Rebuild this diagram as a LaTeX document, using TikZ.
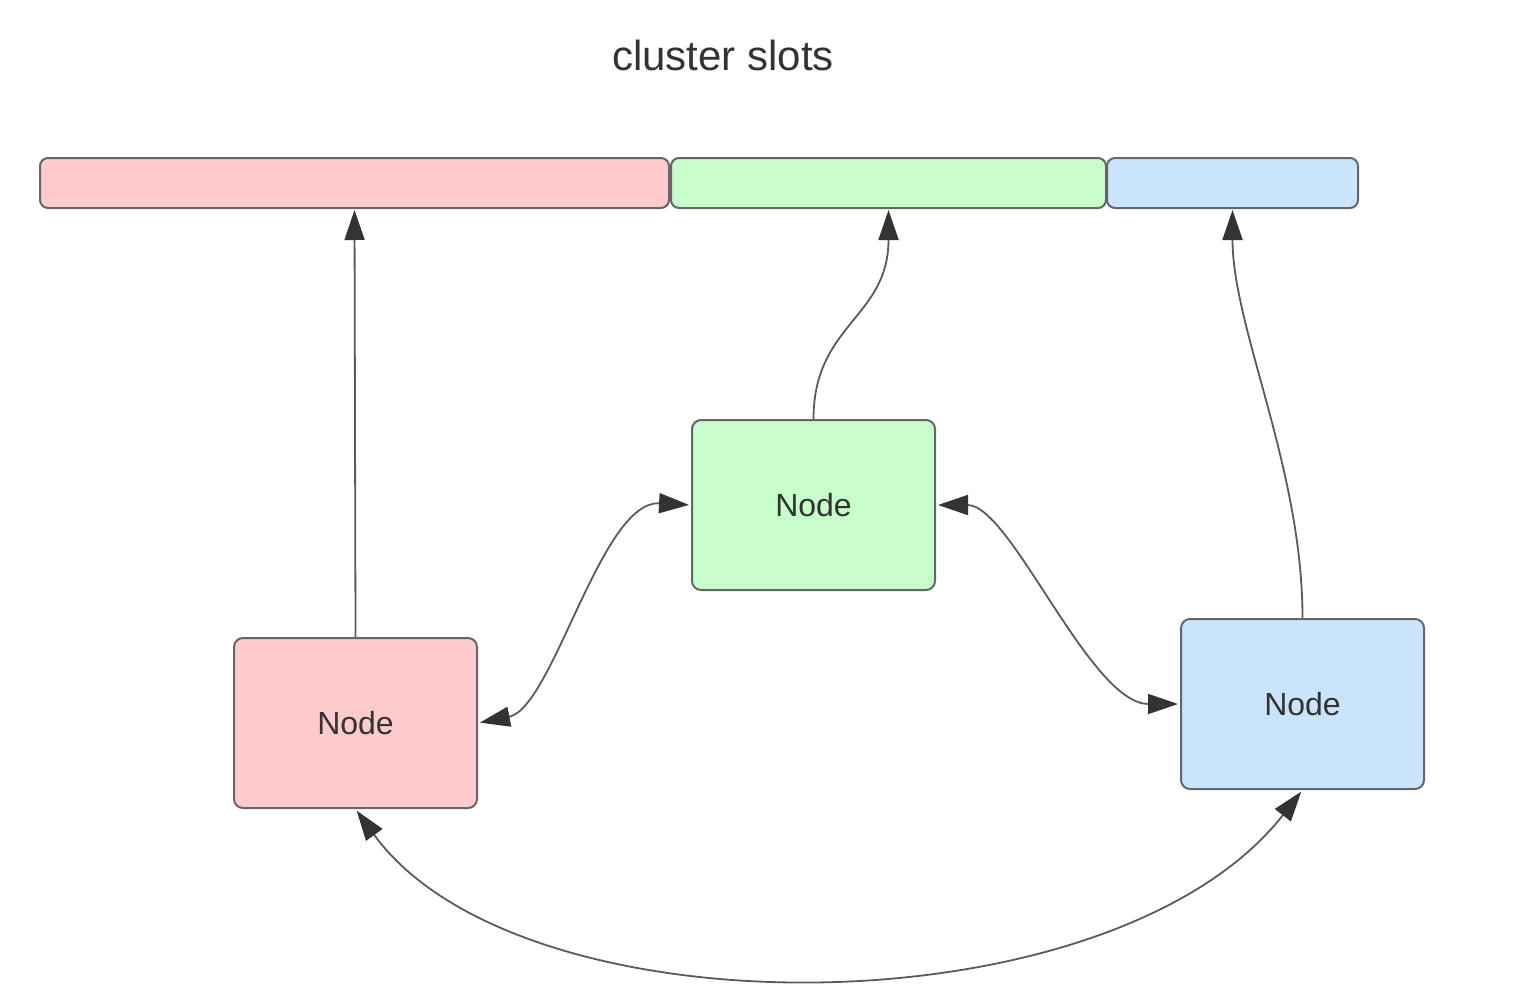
\documentclass[tikz,border=0pt]{standalone}
\usepackage{fontspec}
\setmainfont{Liberation Sans}
\usetikzlibrary{arrows.meta}
\definecolor{redfill}{HTML}{FECBCC}
\definecolor{greenfill}{HTML}{C6FDCB}
\definecolor{bluefill}{HTML}{C9E4FB}
\definecolor{edge}{HTML}{666666}
\definecolor{wire}{HTML}{5A5A5A}
\definecolor{ink}{HTML}{333333}
\begin{document}
\begin{tikzpicture}[x=1pt,y=-1pt,
  slot/.style={draw=edge,line width=2pt,rounded corners=8pt,minimum height=50pt,inner sep=0pt,outer sep=0pt},
  server/.style={draw=edge,line width=2pt,rounded corners=9pt,minimum width=243pt,minimum height=170pt,
    inner sep=0pt,outer sep=1pt,text=ink,font=\fontsize{32}{38}\selectfont},
  head/.tip={Triangle[length=30pt,width=20pt,color=ink]},
  link/.style={draw=wire,line width=1.8pt,-head,shorten >=2pt},
  biway/.style={draw=wire,line width=1.8pt,head-head,shorten >=2pt,shorten <=2pt}]
  \useasboundingbox (0,0) rectangle (1528,1004);

  % title
  \node[text=ink,font=\fontsize{42}{50}\selectfont] (title) at (723,55) {cluster slots};

  % slot ranges
  \node[slot,fill=redfill,minimum width=629pt] (slotA) at (354.5,183) {};
  \node[slot,fill=greenfill,minimum width=435pt] (slotB) at (888.5,183) {};
  \node[slot,fill=bluefill,minimum width=251pt] (slotC) at (1232.5,183) {};

  % cluster nodes
  \node[server,fill=redfill] (nodeA) at (355.5,723) {Node};
  \node[server,fill=greenfill] (nodeB) at (813.5,505) {Node};
  \node[server,fill=bluefill] (nodeC) at (1302.5,704) {Node};

  % each node owns a slot range
  \draw[link] (nodeA.north) -- (slotA.south);
  \draw[link] (nodeB.north) .. controls +(0,-95) and +(0,110) .. (slotB.south);
  \draw[link] (nodeC.north) .. controls +(0,-150) and +(0,120) .. (slotC.south);

  % gossip between nodes
  \draw[biway] (nodeA.east) .. controls +(75,-15) and +(-90,-5) .. (nodeB.west);
  \draw[biway] (nodeB.east) .. controls +(75,0) and +(-90,0) .. (nodeC.west);
  \draw[biway] (nodeA.south) .. controls +(165,228) and +(-190,243) .. (nodeC.south);
\end{tikzpicture}
\end{document}
